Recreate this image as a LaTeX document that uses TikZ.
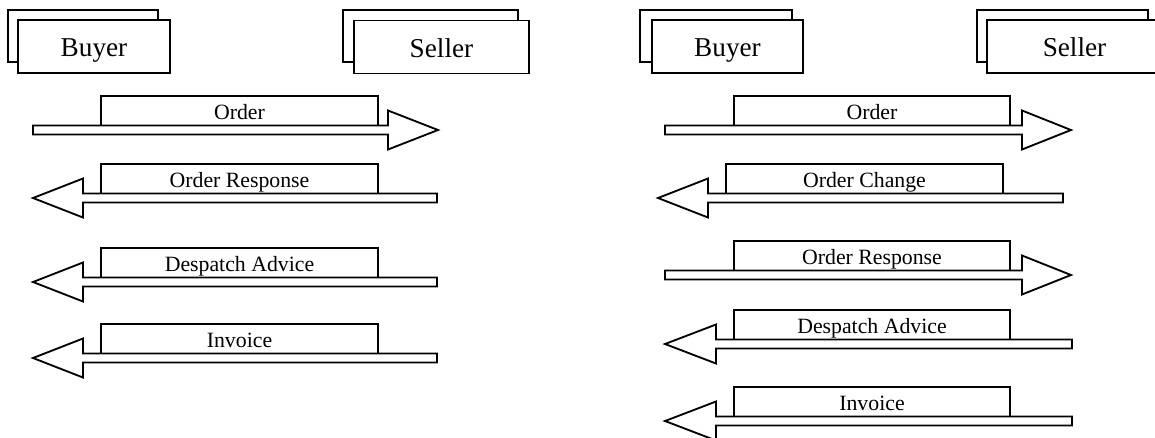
\documentclass[tikz,border=0pt]{standalone}
\usepackage{fontspec}
\setmainfont{Liberation Serif}
\tikzset{
  outl/.style={draw=black, line width=1.05pt, line join=miter},
  backbox/.style={draw=black, line width=1.05pt, fill=white},
  party/.style={draw=black, line width=1.05pt, fill=white, inner sep=0pt,
    minimum height=1.06cm, text height=15pt, text depth=3.1pt,
    font=\fontsize{15.5}{18}\selectfont},
  lbl/.style={inner sep=0pt, anchor=base, font=\fontsize{12.4}{14}\selectfont},
}
% right-pointing message: #1 name, #2 shaft left, #3 head base, #4 tip, #5 centre y, #6 label left, #7 label right, #8 text
\newcommand\msgright[8]{%
  \draw[outl, fill=white] (#2,#5-4.5) -- (#3,#5-4.5) -- (#3,#5-19.5) -- (#4,#5) -- (#3,#5+19.5) -- (#3,#5+4.5) -- (#2,#5+4.5) -- cycle;
  \draw[outl] (#6,#5-4.5) -- (#6,#5-34) -- (#7,#5-34) -- (#7,#5-4.5);
  \node[lbl] (#1) at ({(#6+#7)/2},#5-10.5) {#8};
}
% left-pointing message: #1 name, #2 shaft right, #3 head base, #4 tip, #5 centre y, #6 label left, #7 label right, #8 text
\newcommand\msgleft[8]{%
  \draw[outl, fill=white] (#2,#5-4.5) -- (#3,#5-4.5) -- (#3,#5-19.5) -- (#4,#5) -- (#3,#5+19.5) -- (#3,#5+4.5) -- (#2,#5+4.5) -- cycle;
  \draw[outl] (#6,#5-4.5) -- (#6,#5-34) -- (#7,#5-34) -- (#7,#5-4.5);
  \node[lbl] (#1) at ({(#6+#7)/2},#5-10.5) {#8};
}
\begin{document}
\begin{tikzpicture}[x=0.02cm, y=-0.02cm]
\clip (0,0) rectangle (1155,437);
\fill[white] (0,0) rectangle (1155,437);
% left panel parties
\draw[backbox] (8,10) rectangle (158,62);
\node[party, minimum width=3.04cm] (buyerL) at (94,46.5) {Buyer};
\draw[backbox] (343,10) rectangle (518,62);
\node[party, minimum width=3.5cm] (sellerL) at (441.5,47) {Seller};
% right panel parties
\draw[backbox] (640,10) rectangle (792,62);
\node[party, minimum width=3.02cm] (buyerR) at (727.5,46.5) {Buyer};
\draw[backbox] (977,10) rectangle (1148,62);
\node[party, minimum width=3.5cm] (sellerR) at (1074.5,46.5) {Seller};
% left panel messages
\msgright{orderL}{33}{388}{438}{130}{101}{378}{Order}
\msgleft{respL}{437}{83}{33}{198}{101}{378}{Order Response}
\msgleft{despL}{437}{83}{33}{282}{101}{378}{Despatch Advice}
\msgleft{invL}{437}{83}{33}{358}{101}{378}{Invoice}
% right panel messages
\msgright{orderR}{665}{1022}{1071}{130}{734}{1010}{Order}
\msgleft{changeR}{1063}{708}{658}{198}{726}{1003}{Order Change}
\msgright{respR}{665}{1022}{1071}{275}{734}{1010}{Order Response}
\msgleft{despR}{1072}{716}{665}{344}{734}{1010}{Despatch Advice}
\msgleft{invR}{1072}{716}{665}{421}{734}{1010}{Invoice}
\end{tikzpicture}
\end{document}
